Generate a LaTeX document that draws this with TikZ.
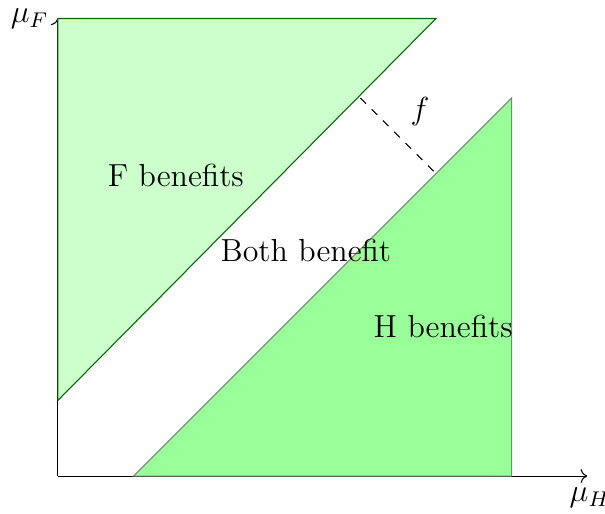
\documentclass[tikz,border=0pt]{standalone}
\usepackage{amsmath,amssymb}
\usetikzlibrary{arrows.meta}

\begin{document}
\begin{tikzpicture}[x=5cm, y=5cm, every node/.style={font=\large},
	Fregion/.style={fill=green!20, draw=green!40!black},
	Hregion/.style={fill=green!40, draw=gray}]
	\useasboundingbox (-0.153,-0.098) rectangle (1.447,1.259);
	\draw[->] (0,0) -- (1.4,0) node[below, xshift=1pt, yshift=-1pt] (muH) {$\mu_H$};
	\draw[->] (0,0) -- (0,1.21) node[left] (muF) {$\mu_F$};
	\filldraw[Fregion] (0,0.2) -- (0,1.21) -- (1,1.21) -- cycle;
	\filldraw[Hregion] (0.2,0) -- (1.2,0) -- (1.2,1) -- cycle;
	\coordinate (fa) at (0.8,1.0);
	\coordinate (fb) at (1.0,0.8);
	\draw[dashed] (fa) -- (fb);
	\node (f) at (0.958,0.963) {$f$};
	\node (Fben) at (0.312,0.796) {F benefits};
	\node (Bben) at (0.656,0.598) {Both benefit};
	\node (Hben) at (1.019,0.397) {H benefits};
\end{tikzpicture}
\end{document}
